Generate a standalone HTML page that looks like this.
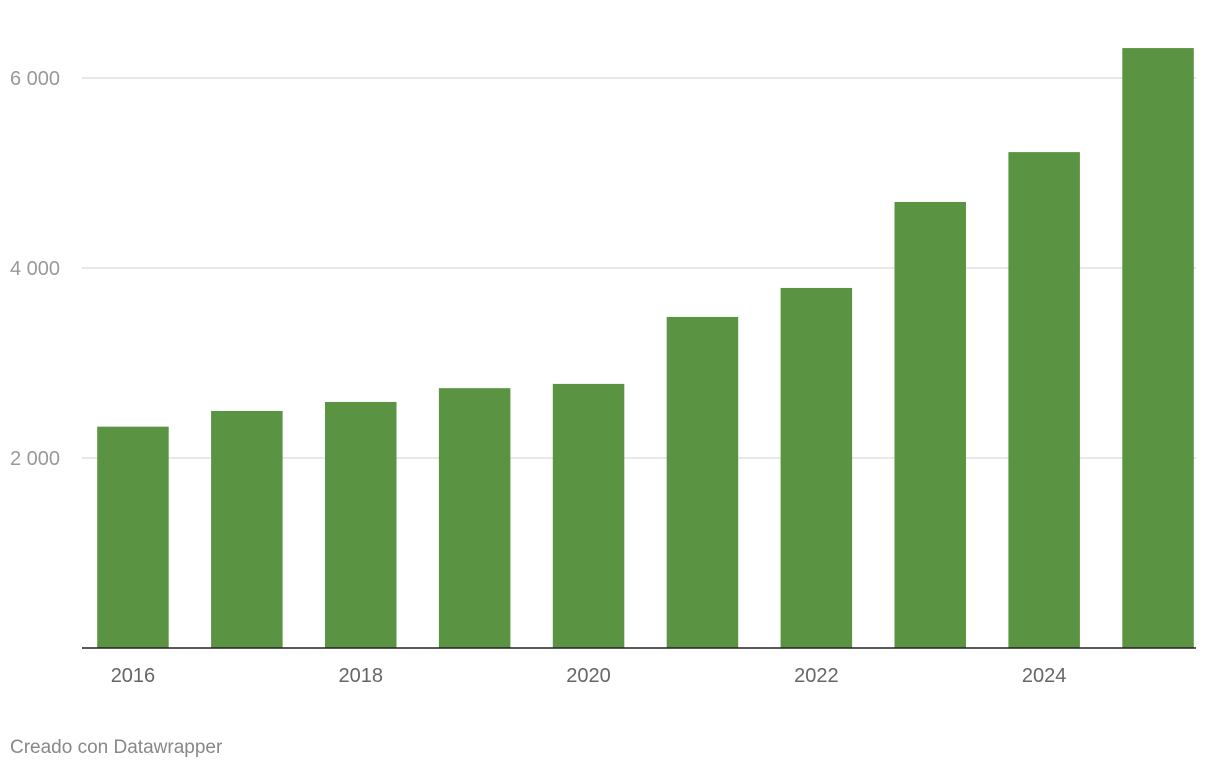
<!DOCTYPE html>
<html><head><meta charset="utf-8"><style>
body{margin:0;background:#fff;width:1220px;height:770px;overflow:hidden;font-family:"Liberation Sans",sans-serif}
</style></head><body>
<svg width="1220" height="770">
<g id="grid"></g><g id="bars"></g><g id="xlabels"></g>
<line x1="82" x2="1196" y1="648" y2="648" stroke="#222" stroke-width="1.5"/>
<text x="10" y="753" font-size="19" fill="#888">Creado con Datawrapper</text>
</svg>
<script>
const years=["2016","2017","2018","2019","2020","2021","2022","2023","2024","2025"];
const values=[2330,2495,2590,2735,2780,3485,3790,4695,5220,6315];
const yTicks=[2000,4000,6000];
const yTickLabels=["2 000","4 000","6 000"];
const xLabelShown=["2016","2018","2020","2022","2024"];
const ns="http://www.w3.org/2000/svg";
const y0=648,k=0.095,left=76,step=113.9,bw=71.5;
const y=v=>y0-v*k;
const xc=i=>left+step*(i+0.5);
const g=document.getElementById('grid'),b=document.getElementById('bars'),xl=document.getElementById('xlabels');
yTicks.forEach((t,i)=>{
 const l=document.createElementNS(ns,'line');
 l.setAttribute('x1',82);l.setAttribute('x2',1196);l.setAttribute('y1',y(t));l.setAttribute('y2',y(t));
 l.setAttribute('stroke','#e0e0e0');l.setAttribute('stroke-width','1.5');
 
 
 g.appendChild(l);
 const tx=document.createElementNS(ns,'text');
 tx.setAttribute('x',10);tx.setAttribute('y',y(t)+7);tx.setAttribute('font-size','20');tx.setAttribute('fill','#999');
 tx.textContent=yTickLabels[i];
 
 
 g.appendChild(tx);
});
values.forEach((v,i)=>{
 const r=document.createElementNS(ns,'rect');
 r.setAttribute('x',xc(i)-bw/2);r.setAttribute('y',y(v));r.setAttribute('width',bw);r.setAttribute('height',v*k);
 r.setAttribute('fill','#5a9443');
 
 
 b.appendChild(r);
 if(xLabelShown.includes(years[i])){
  const tx=document.createElementNS(ns,'text');
  tx.setAttribute('x',xc(i));tx.setAttribute('y',682);tx.setAttribute('font-size','20');tx.setAttribute('fill','#666');
  tx.setAttribute('text-anchor','middle');tx.textContent=years[i];
  
  
  xl.appendChild(tx);
 }
});
</script>
</body></html>
